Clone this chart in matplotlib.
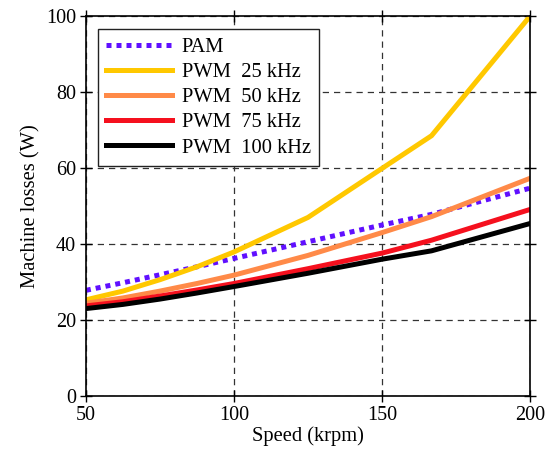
import matplotlib
matplotlib.use('Agg')
import matplotlib.pyplot as plt

# speed in krpm, losses in W
speed = [50, 62.5, 75, 87.5, 100, 125, 150, 166.7, 200]
pam = [27.8, 29.8, 31.9, 34.0, 36.2, 40.6, 45.0, 47.8, 54.7]
pwm_25 = [25.3, 27.6, 30.6, 34.0, 37.9, 47.0, 59.9, 68.5, 100.0]
pwm_50 = [24.4, 25.8, 27.6, 29.6, 31.8, 37.0, 43.0, 47.2, 57.3]
pwm_75 = [23.7, 24.8, 26.3, 27.9, 29.6, 33.5, 37.6, 41.0, 49.1]
pwm_100 = [23.0, 24.1, 25.5, 27.1, 28.8, 32.3, 36.0, 38.2, 45.4]

plt.rcParams['font.family'] = ['Liberation Serif', 'DejaVu Serif']

fig = plt.figure(figsize=(5.54, 4.51), dpi=100)
ax = fig.add_axes([0.155, 0.122, 0.802, 0.8425])

lw = 3.6
ax.plot(speed, pam, color='#6010ff', lw=lw, linestyle=(0, (1, 1)), label='PAM')
ax.plot(speed, pwm_25, color='#ffc800', lw=lw, label='PWM  25 kHz')
ax.plot(speed, pwm_50, color='#ff8a48', lw=lw, label='PWM  50 kHz')
ax.plot(speed, pwm_75, color='#f5101e', lw=lw, label='PWM  75 kHz')
ax.plot(speed, pwm_100, color='#000000', lw=lw, label='PWM  100 kHz')

ax.set_xlim(50, 200)
ax.set_ylim(0, 100)
ax.set_xticks([50, 100, 150, 200])
ax.set_yticks([0, 20, 40, 60, 80, 100])
ax.grid(True, color='#333333', linestyle=(0, (5, 4)), lw=0.9)
ax.tick_params(direction='inout', length=8, width=1, top=True, right=True,
               labelsize=14.5, pad=3)
for s in ax.spines.values():
    s.set_linewidth(1.2)

ax.set_xlabel('Speed (krpm)', fontsize=14.8, labelpad=1)
ax.set_ylabel('Machine losses (W)', fontsize=14.8, labelpad=4)

leg = ax.legend(loc='upper left', bbox_to_anchor=(0.027, 0.966), borderaxespad=0,
                fontsize=14.8, handlelength=3.2, handletextpad=0.45, labelspacing=0.28,
                borderpad=0.42, fancybox=False, framealpha=1, edgecolor='#222222')
leg.get_frame().set_linewidth(1.0)

fig.savefig('out.png', dpi=100)
